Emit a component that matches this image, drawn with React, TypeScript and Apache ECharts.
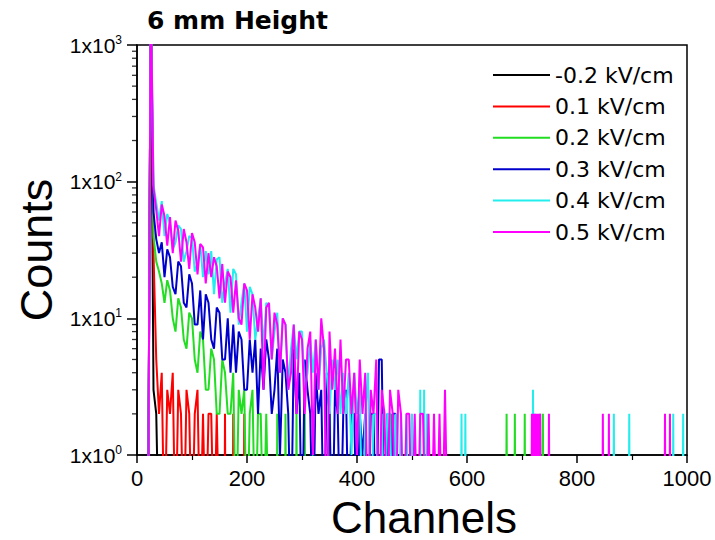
import React, { useEffect, useRef } from "react";
import * as echarts from "echarts";

// ---- data (counts per channel, sampled every STEP channels from START) ----
const START = 20;
const STEP = 5;
const seriesNames = ["-0.2 kV/cm", "0.1 kV/cm", "0.2 kV/cm", "0.3 kV/cm", "0.4 kV/cm", "0.5 kV/cm"];
const seriesColors = ["#000000", "#ff0000", "#22dd22", "#0000cc", "#22eeee", "#ff00ff"];

const blackDense = [0, 2500, 3, 2, 0];
const blackSpikes: number[][] = [];

const redDense = [0, 2500, 30, 5, 2, 4, 0, 3, 2, 4, 0, 3, 2, 0, 3, 2, 0, 2, 3, 0, 2, 0, 2, 2, 0, 2, 0];
const redSpikes = [[160, 2], [175, 2], [195, 2]];

const greenDense = [
  0, 2500, 40, 26, 22, 18, 13, 19, 16, 10, 8, 14, 12, 7, 6, 11, 10, 5, 4, 8,
  7, 3, 3, 6, 5, 2, 2, 5, 4, 2, 2, 4, 0, 3, 2, 3, 0, 2, 3, 0, 2, 2, 0, 2, 0,
];
const greenSpikes = [[255, 2], [270, 2], [290, 2], [305, 2], [320, 2], [351, 2], [463, 2], [672, 2], [687, 2], [705, 2], [733, 2], [738, 2]];

const blueDense = [
  0, 2500, 60, 38, 30, 36, 20, 32, 28, 17, 15, 26, 24, 13, 12, 21, 18, 9, 9, 16,
  7, 15, 13, 7, 6, 12, 11, 5, 5, 10, 4, 9, 4, 8, 7, 3, 3, 7, 4, 7,
  2, 6, 3, 7, 5, 2, 3, 6, 1, 5, 4, 2, 0, 6, 2, 4, 0, 5, 3, 2,
  0, 4, 2, 3, 0, 4, 2, 0, 3, 2, 0, 2, 3, 0, 2, 2, 0, 2, 1, 2,
  0, 2, 2, 0, 5, 5, 0, 2, 0, 2, 2, 0,
];
const blueSpikes: number[][] = [];

const cyanDense = [
  0, 2500, 95, 70, 52, 72, 40, 58, 50, 32,
  36, 48, 45, 26, 31, 40, 39, 22, 25, 35,
  20, 31, 21, 31, 15, 27, 28, 13, 18, 23,
  11, 23, 21, 9, 13, 18, 8, 17, 15, 7,
  10, 14, 6, 13, 12, 5, 8, 11, 4, 10,
  9, 3, 6, 9, 5, 8, 8, 3, 4, 7,
  4, 7, 3, 6, 7, 4, 2, 5, 3, 5,
  2, 4, 2, 4, 1, 4, 2, 3, 0, 2,
  4, 0, 2, 2, 0, 2, 0, 2, 2, 0,
  2, 0, 2, 0, 2, 0, 2, 0, 0,
];
const cyanSpikes = [[515, 3], [522, 3], [527, 2], [590, 2], [597, 2], [720, 3], [724, 2], [867, 2], [895, 2], [975, 2], [993, 2]];

const magentaDense = [
  0, 2500, 90, 62, 40, 68, 56, 34, 55, 30,
  52, 44, 26, 45, 36, 23, 42, 36, 21, 35,
  33, 18, 30, 20, 28, 24, 14, 25, 13, 22,
  20, 11, 19, 10, 9, 18, 16, 7, 15, 12,
  8, 14, 3, 12, 13, 5, 11, 9, 4, 10,
  9, 3, 4, 9, 2, 8, 7, 2, 6, 8,
  1, 7, 3, 10, 6, 0, 8, 3, 6, 2,
  7, 2, 5, 5, 2, 4, 1, 5, 2, 4,
  0, 3, 2, 5, 0, 3, 2, 0, 3, 2,
  0, 3, 2, 0, 2, 2, 0, 2, 0, 2,
  2, 0, 2, 0, 2, 0, 2, 0, 3, 0,
];
const magentaSpikes = [[718, 2], [721, 2], [724, 2], [727, 2], [730, 2], [733, 2], [749, 2], [847, 2], [858, 2], [960, 2], [969, 2]];

const yDecades = [1, 10, 100, 1000];

const ZERO = 0.2; // zero counts drawn below the log axis floor (clipped)

function build(dense: number[], spikes: number[][]) {
  const pts: number[][] = dense.map((v, i) => [START + i * STEP, v === 0 ? ZERO : v]);
  spikes.forEach(([c, n]) => {
    pts.push([c - 1, ZERO], [c, n], [c + 1, ZERO]);
  });
  pts.sort((a, b) => a[0] - b[0]);
  return pts;
}

const allData = [
  build(blackDense, blackSpikes),
  build(redDense, redSpikes),
  build(greenDense, greenSpikes),
  build(blueDense, blueSpikes),
  build(cyanDense, cyanSpikes),
  build(magentaDense, magentaSpikes),
];

const FONT = "'Liberation Sans', Arial, sans-serif";

export default function App() {
  const ref = useRef<HTMLDivElement>(null);
  useEffect(() => {
    if (!ref.current) return;
    const chart = echarts.init(ref.current, undefined, { renderer: "svg" });
    const minorVals: number[][] = [];
    for (let d = 0; d < yDecades.length - 1; d++) {
      for (let k = 2; k <= 9; k++) minorVals.push([0, yDecades[d] * k]);
    }
    const lineSeries = allData.map((data, i) => ({
      name: seriesNames[i],
      type: "line",
      data,
      symbol: "none",
      clip: true,
      lineStyle: { color: seriesColors[i], width: 2 },
      itemStyle: { color: seriesColors[i] },
      emphasis: { disabled: true },
    }));
    chart.setOption({
      animation: false,
      backgroundColor: "#ffffff",
      title: {
        text: "6 mm Height",
        left: 147,
        top: 8,
        padding: 0,
        textStyle: { fontFamily: "'DejaVu Sans', sans-serif", fontWeight: "bold", fontSize: 25, color: "#000" },
      },
      legend: {
        data: seriesNames.map((n, i) => ({ name: n, icon: "rect", itemStyle: { color: seriesColors[i] } })),
        orient: "vertical",
        left: 488,
        top: 58,
        itemWidth: 57,
        itemHeight: 2,
        itemGap: 7.4,
        textStyle: { fontFamily: "'DejaVu Sans', sans-serif", fontSize: 22, color: "#000", lineHeight: 24 },
      },
      grid: {
        left: 137,
        right: 28,
        top: 45,
        bottom: 85,
        outerBoundsMode: "none",
        containLabel: false,
        show: true,
        borderColor: "#000",
        borderWidth: 1.5,
        backgroundColor: "transparent",
      },
      xAxis: {
        type: "value",
        min: 0,
        max: 1000,
        interval: 200,
        name: "Channels",
        nameLocation: "middle",
        nameGap: 42,
        nameTextStyle: { fontFamily: FONT, fontSize: 44, lineHeight: 40, color: "#000", padding: [0, 0, 0, 24] },
        axisLine: { show: true, onZero: false, lineStyle: { color: "#000", width: 1.5 } },
        axisTick: { show: true, length: 8, lineStyle: { color: "#000", width: 1.5 } },
        minorTick: { show: true, splitNumber: 2, length: 5, lineStyle: { color: "#000", width: 1.2 } },
        splitLine: { show: false },
        axisLabel: { fontFamily: FONT, fontSize: 22, color: "#000", margin: 12, formatter: (v: number) => String(v) },
      },
      yAxis: {
        type: "log",
        logBase: 10,
        min: 1,
        max: 1000,
        name: "Counts",
        nameLocation: "middle",
        nameGap: 78,
        nameTextStyle: { fontFamily: FONT, fontSize: 45, color: "#000" },
        axisLine: { show: true, lineStyle: { color: "#000", width: 1.5 } },
        axisTick: { show: true, length: 10, lineStyle: { color: "#000", width: 1.5 } },
        splitLine: { show: false },
        axisLabel: {
          margin: 15,
          formatter: (v: number) => `{b|1x10}{s|${Math.round(Math.log10(v))}}`,
          rich: {
            b: { fontFamily: FONT, fontSize: 21, color: "#000", lineHeight: 22 },
            s: { fontFamily: FONT, fontSize: 12, color: "#000", verticalAlign: "top", lineHeight: 22, padding: [0, 0, 10, 0] },
          },
        },
      },
      series: [
        ...lineSeries,
        {
          type: "scatter",
          name: "minorTicks",
          data: minorVals,
          symbol: "rect",
          symbolSize: [5, 1.3],
          symbolOffset: [-2.5, 0],
          clip: false,
          silent: true,
          itemStyle: { color: "#000" },
          z: 5,
        },
      ],
    });
    return () => chart.dispose();
  }, []);
  return <div ref={ref} style={{ width: 715, height: 540, position: "absolute", left: 0, top: 0 }} />;
}
